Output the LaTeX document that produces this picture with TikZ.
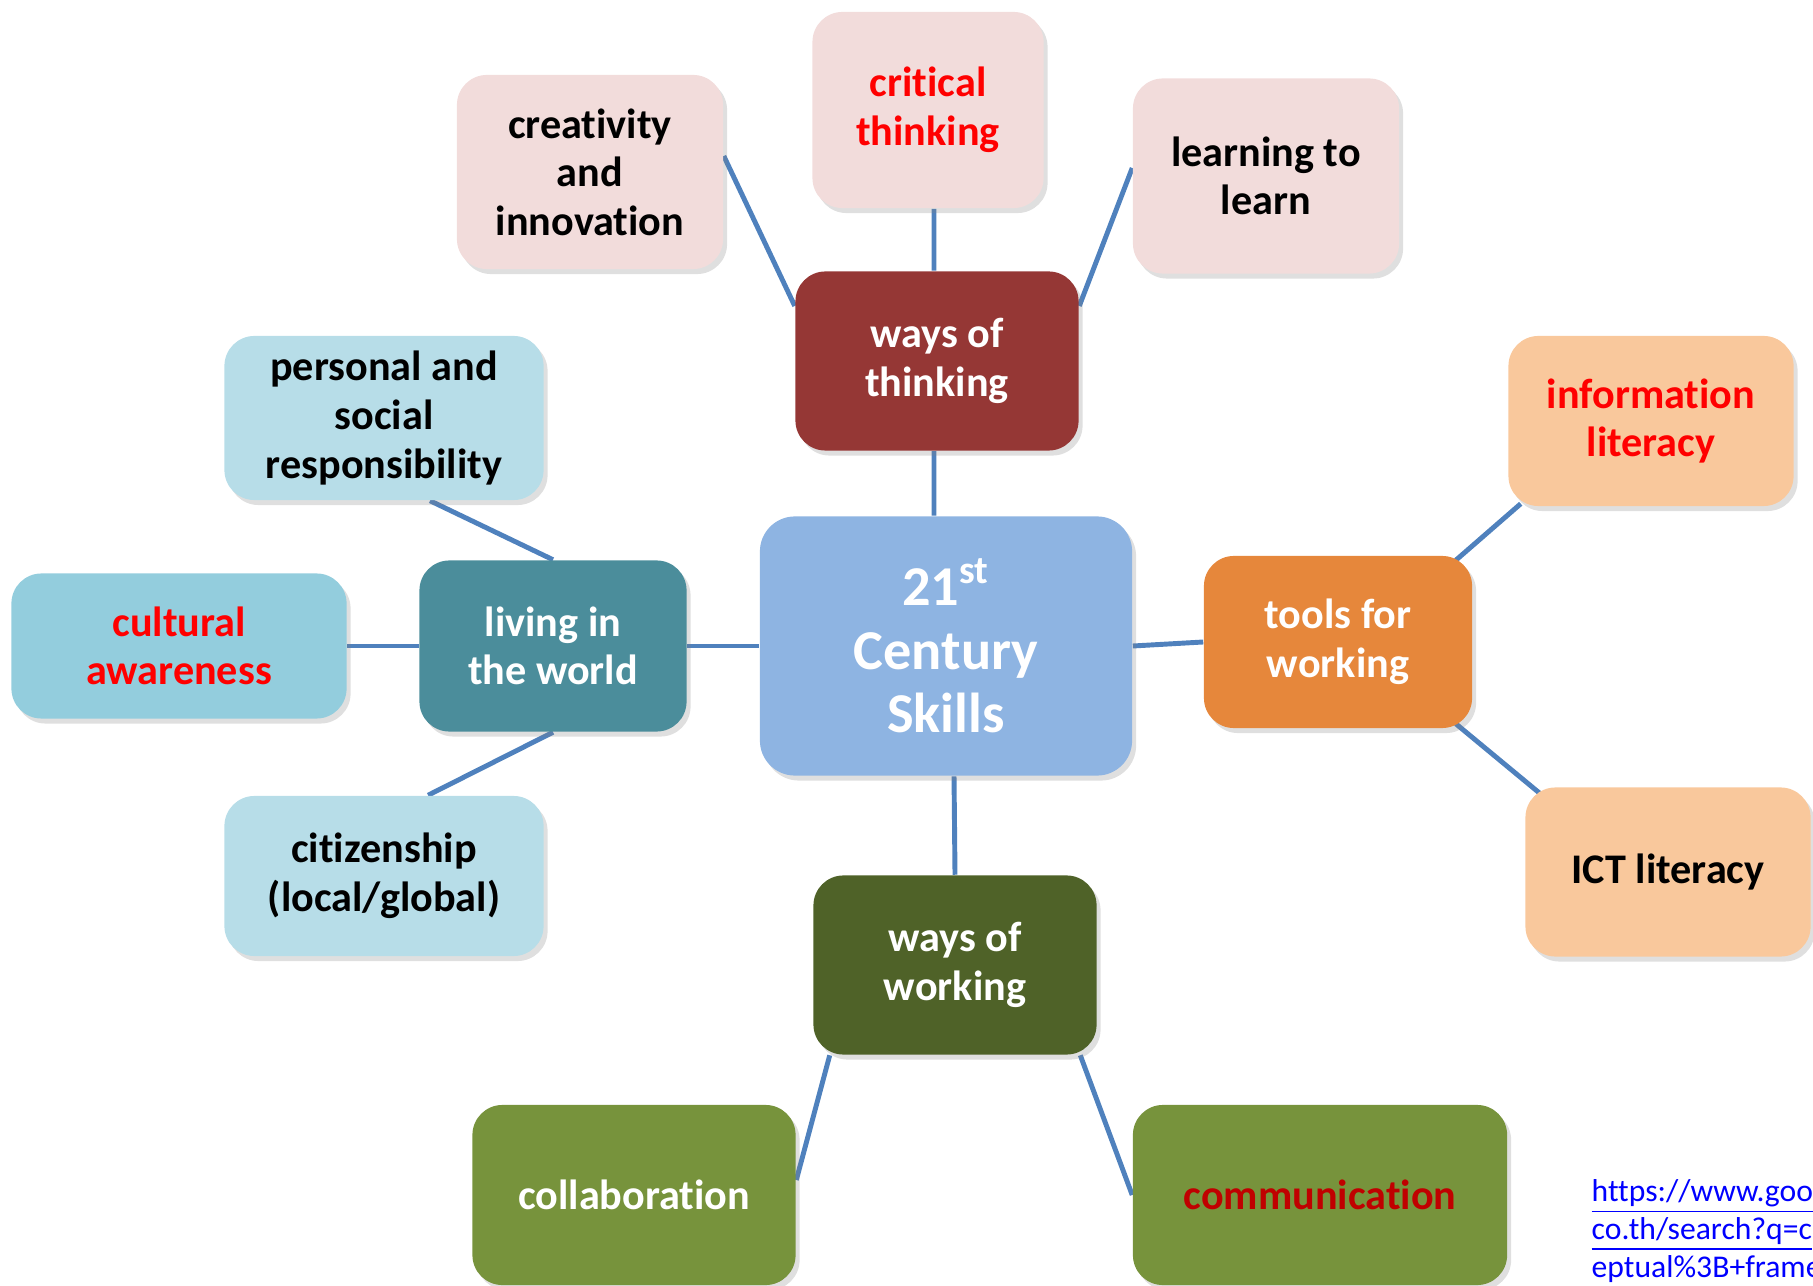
\documentclass[tikz,border=0pt]{standalone}
\usepackage{fontspec}
\setmainfont{Carlito}[Ligatures=NoCommon]
\usetikzlibrary{backgrounds, shadows}
\definecolor{pinkfill}{HTML}{F2DCDB}
\definecolor{lightblue}{HTML}{B7DDE8}
\definecolor{cultblue}{HTML}{93CDDD}
\definecolor{tealbox}{HTML}{4B8D9B}
\definecolor{centerblue}{HTML}{8EB4E2}
\definecolor{darkred}{HTML}{953735}
\definecolor{orangebox}{HTML}{E6873B}
\definecolor{peach}{HTML}{F9C89C}
\definecolor{darkgreen}{HTML}{4F6228}
\definecolor{greenbox}{HTML}{77933C}
\definecolor{linkline}{HTML}{4F81BD}
\definecolor{commred}{HTML}{C00000}

\begin{document}
\begin{tikzpicture}[x=0.01cm, y=-0.01cm,
  box/.style={rounded corners=0.3cm, inner sep=0pt, align=center,
    font=\fontsize{12}{13.8}\selectfont\bfseries,
    drop shadow={opacity=0.25, shadow xshift=0.4mm, shadow yshift=-0.5mm}},
  pinkbox/.style={box, fill=pinkfill},
  bluebox/.style={box, fill=lightblue},
  peachbox/.style={box, fill=peach},
  greenbox/.style={box, fill=greenbox, text=white},
  hubbox/.style={box, text=white},
  connect/.style={draw=linkline, line width=1.4pt}]
\useasboundingbox (0,0) rectangle (1813,1286);

% centre
\node[hubbox, fill=centerblue, minimum width=3.72cm, minimum height=2.59cm,
  rounded corners=0.35cm, font=\fontsize{16}{18}\selectfont\bfseries]
  (ctr) at (946,646) {21\textsuperscript{st}\\Century\\Skills};

% ways of thinking
\node[hubbox, fill=darkred, minimum width=2.83cm, minimum height=1.79cm] (wot) at (937,361) {ways of\\thinking};
\node[pinkbox, minimum width=2.66cm, minimum height=1.94cm] (cre) at (590,172) {creativity\\and\\innovation};
\node[pinkbox, minimum width=2.31cm, minimum height=1.96cm, text=red] (crit) at (928,110) {critical\\thinking};
\node[pinkbox, minimum width=2.66cm, minimum height=1.95cm] (learn) at (1266,176) {learning to\\learn};

% living in the world
\node[hubbox, fill=tealbox, minimum width=2.67cm, minimum height=1.71cm] (liv) at (553,646) {living in\\the world};
\node[bluebox, minimum width=3.19cm, minimum height=1.64cm] (pers) at (384,418) {personal and\\social\\responsibility};
\node[box, fill=cultblue, minimum width=3.35cm, minimum height=1.45cm, text=red] (cult) at (179,646) {cultural\\awareness};
\node[bluebox, minimum width=3.19cm, minimum height=1.60cm] (citi) at (384,876) {citizenship\\(local/global)};

% tools for working
\node[hubbox, fill=orangebox, minimum width=2.68cm, minimum height=1.72cm] (tools) at (1338,642) {tools for\\working};
\node[peachbox, minimum width=2.85cm, minimum height=1.70cm, text=red] (info) at (1651,421) {information\\literacy};
\node[peachbox, minimum width=2.85cm, minimum height=1.69cm] (ict) at (1668,872) {ICT literacy};

% ways of working
\node[hubbox, fill=darkgreen, minimum width=2.83cm, minimum height=1.79cm] (wow) at (955,965) {ways of\\working};
\node[greenbox, minimum width=3.23cm, minimum height=1.80cm] (col) at (634,1195) {collaboration};
\node[greenbox, minimum width=3.74cm, minimum height=1.80cm, text=commred] (com) at (1320,1195) {communication};

\begin{scope}[on background layer]
\draw[connect] ([yshift=0.16cm]cre.east) -- ([yshift=0.55cm]wot.west);
\draw[connect] ([xshift=0.06cm]crit.south) -- ([xshift=-0.03cm]wot.north);
\draw[connect] ([yshift=0.08cm]learn.west) -- ([yshift=0.55cm]wot.east);
\draw[connect] ([xshift=-0.03cm]wot.south) -- ([xshift=-0.12cm]ctr.north);
\draw[connect] ([xshift=0.46cm]pers.south) -- (liv.north);
\draw[connect] (cult.east) -- (liv.west);
\draw[connect] ([xshift=0.44cm]citi.north) -- (liv.south);
\draw[connect] (liv.east) -- (ctr.west);
\draw[connect] (ctr.east) -- (tools.west);
\draw[connect] ([xshift=-0.17cm, yshift=-0.05cm]tools.north east) -- ([xshift=0.13cm, yshift=0.03cm]info.south west);
\draw[connect] ([xshift=-0.17cm, yshift=0.05cm]tools.south east) -- ([xshift=0.18cm, yshift=-0.09cm]ict.north west);
\draw[connect] ([xshift=0.08cm]ctr.south) -- (wow.north);
\draw[connect] ([xshift=0.17cm]wow.south west) -- ([yshift=0.15cm]col.east);
\draw[connect] ([xshift=-0.17cm]wow.south east) -- (com.west);
\end{scope}

% source link
\begin{scope}
\clip (1550,1150) rectangle (1813,1286);
\node[anchor=base west, align=left, inner sep=0pt, text=blue,
  font=\fontsize{9}{10.8}\selectfont] (src) at (1591,1277)
  {\underline{https://www.goo}\\\underline{co.th/search?q=c}\\\underline{eptual\%3B+frame}};
\end{scope}
\end{tikzpicture}
\end{document}
